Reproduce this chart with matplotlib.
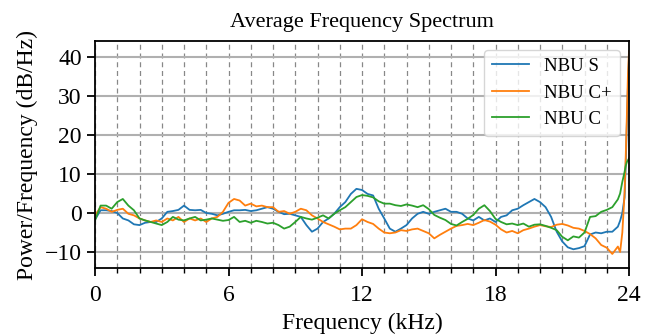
import numpy as np
import matplotlib
matplotlib.use("Agg")
import matplotlib.pyplot as plt
from matplotlib.ticker import MultipleLocator

# Frequency grid (kHz): 0..23.5 every 0.25, then the steep final rise
freq_main = np.arange(0, 23.5001, 0.25)
freq_tail = [23.6, 23.7, 23.8, 23.85, 23.9, 23.95, 24.0]
freq = np.concatenate([freq_main, freq_tail])

nbu_s = [
    -1.7, 0.7, 0.7, 0.5, 0.0, -1.4, -1.9, -2.9, -3.1, -2.5, -2.3, -2.3, -1.4,
    0.3, 0.5, 0.8, 1.9, 0.8, 0.7, 0.8, 0.0, -0.2, -0.6, -0.2, 0.3,
    0.7, 0.7, 0.8, 0.5, 0.7, 1.1, 1.5, 1.1, 0.3, -0.3, -0.2, -0.6, -1.0, -3.1,
    -4.8, -4.0, -2.3, -1.4, -0.2, 1.5, 2.8, 4.9, 6.2, 5.9,
    4.9, 4.5, 1.1, -1.4, -4.0, -4.8, -4.0, -3.1, -1.4, -0.2, 0.3, -0.2, 0.3,
    0.7, 1.1, 0.3, 0.3, -0.2, -1.4, -1.9, -1.0, -1.9, -1.4, -2.3,
    -1.0, -0.6, 0.7, 1.1, 2.0, 2.8, 3.6, 2.8, 1.5, -1.0, -4.8, -7.3, -8.8,
    -9.3, -9.0, -8.5, -5.5, -5.0, -5.2, -4.8, -4.8, -3.5,
    -2.0, 0.0, 4.0, 12.0, 22.0, 32.0, 40.0,
]

nbu_c_plus = [
    -0.6, 1.5, 1.1, 0.3, 0.8, 1.1, -0.2, -0.6, -1.4, -1.9, -2.3, -1.9, -2.3,
    -1.4, -1.9, -1.0, -2.3, -1.4, -1.9, -1.4, -2.3, -1.4, -1.0, 0.3, 2.6,
    3.6, 3.2, 1.9, 2.4, 1.7, 1.9, 1.5, 1.5, 0.3, 0.5, -0.2, 0.3, 1.1, 0.7,
    -0.6, -1.4, -2.3, -2.9, -3.5, -4.2, -4.0, -4.0, -3.1, -1.6,
    -2.3, -2.8, -4.0, -5.0, -5.2, -5.0, -4.4, -4.6, -4.2, -4.0, -4.6, -5.2,
    -6.5, -5.6, -4.8, -4.0, -3.3, -3.1, -2.8, -3.1, -2.5, -1.8, -2.2, -3.0,
    -4.2, -5.0, -4.6, -5.2, -4.4, -4.0, -3.5, -3.1, -3.4, -3.6, -3.0, -2.8,
    -3.2, -3.8, -4.0, -4.6, -5.4, -6.5, -8.2, -8.9, -10.5, -8.6,
    -10.0, -5.0, 5.0, 14.0, 24.0, 35.0, 41.5,
]

nbu_c = [
    -1.9, 1.9, 1.9, 1.1, 2.8, 3.6, 1.9, 0.7, -1.4, -1.9, -2.3, -2.7, -3.1,
    -2.3, -1.0, -1.7, -1.9, -1.4, -1.0, -1.9, -1.7, -1.4, -1.7, -2.0, -1.8,
    -1.0, -2.3, -2.0, -2.5, -2.0, -2.3, -2.7, -2.5, -3.1, -4.0, -3.5, -2.3,
    -1.0, -1.4, -1.7, -1.2, -0.6, -1.4, -0.2, 0.7, 1.5, 2.8, 4.1, 4.6,
    4.4, 4.0, 3.0, 2.4, 2.4, 2.0, 1.8, 2.2, 1.9, 1.5, 2.0, 1.0, -0.5, -1.2,
    -1.8, -2.8, -3.2, -2.3, -1.5, -0.5, 1.1, 2.0, 0.5, -1.5,
    -2.3, -2.9, -2.7, -3.1, -2.7, -3.5, -3.0, -2.9, -3.3, -3.8, -4.4, -6.1,
    -7.0, -6.0, -6.3, -5.0, -1.0, -0.8, 0.3, 0.8, 1.5, 3.5,
    5.0, 8.0, 10.5, 12.0, 13.0, 13.5, 14.0,
]

series_labels = ["NBU S", "NBU C+", "NBU C"]
series_colors = ["#1f77b4", "#ff7f0e", "#2ca02c"]
x_ticks = [0, 6, 12, 18, 24]
y_ticks = [-10, 0, 10, 20, 30, 40]

plt.rcParams["font.family"] = ["Liberation Serif", "DejaVu Serif"]

fig = plt.figure(figsize=(6.51, 3.36), dpi=100)
ax = fig.add_axes([95 / 651, 1 - 268 / 336, (629 - 95) / 651, (268 - 41) / 336])

for vals, lab, col in zip([nbu_s, nbu_c_plus, nbu_c], series_labels, series_colors):
    ax.plot(freq, vals, color=col, lw=1.3, label=lab)

ax.set_xlim(0, 24)
ax.set_ylim(-14.1, 44.1)
ax.set_xticks(x_ticks)
ax.set_yticks(y_ticks)
ax.xaxis.set_minor_locator(MultipleLocator(1))
ax.set_yticklabels([str(v).replace("-", "\u2212") for v in y_ticks])

ax.grid(True, axis="y", which="major", color="#b0b0b0", lw=1.5, ls="-")
ax.grid(True, axis="x", which="both", color="#888888", lw=0.9, ls=(0, (4, 3)))
ax.set_axisbelow(True)

for s in ax.spines.values():
    s.set_linewidth(1.3)
ax.tick_params(axis="both", which="major", labelsize=17, length=6, width=1.3)
ax.tick_params(axis="x", which="major", pad=6)
ax.tick_params(axis="x", which="minor", length=3.5, width=1.0)

ax.set_xlabel("Frequency (kHz)", fontsize=17, labelpad=5)
ax.set_ylabel("Power/Frequency (dB/Hz)", fontsize=17, labelpad=5)
ax.set_title("Average Frequency Spectrum", fontsize=16, pad=10)

leg = ax.legend(loc="upper right", fontsize=13.5, framealpha=0.8, edgecolor="#cccccc",
                fancybox=True, borderaxespad=0.5)

fig.savefig("out.png", dpi=100)
